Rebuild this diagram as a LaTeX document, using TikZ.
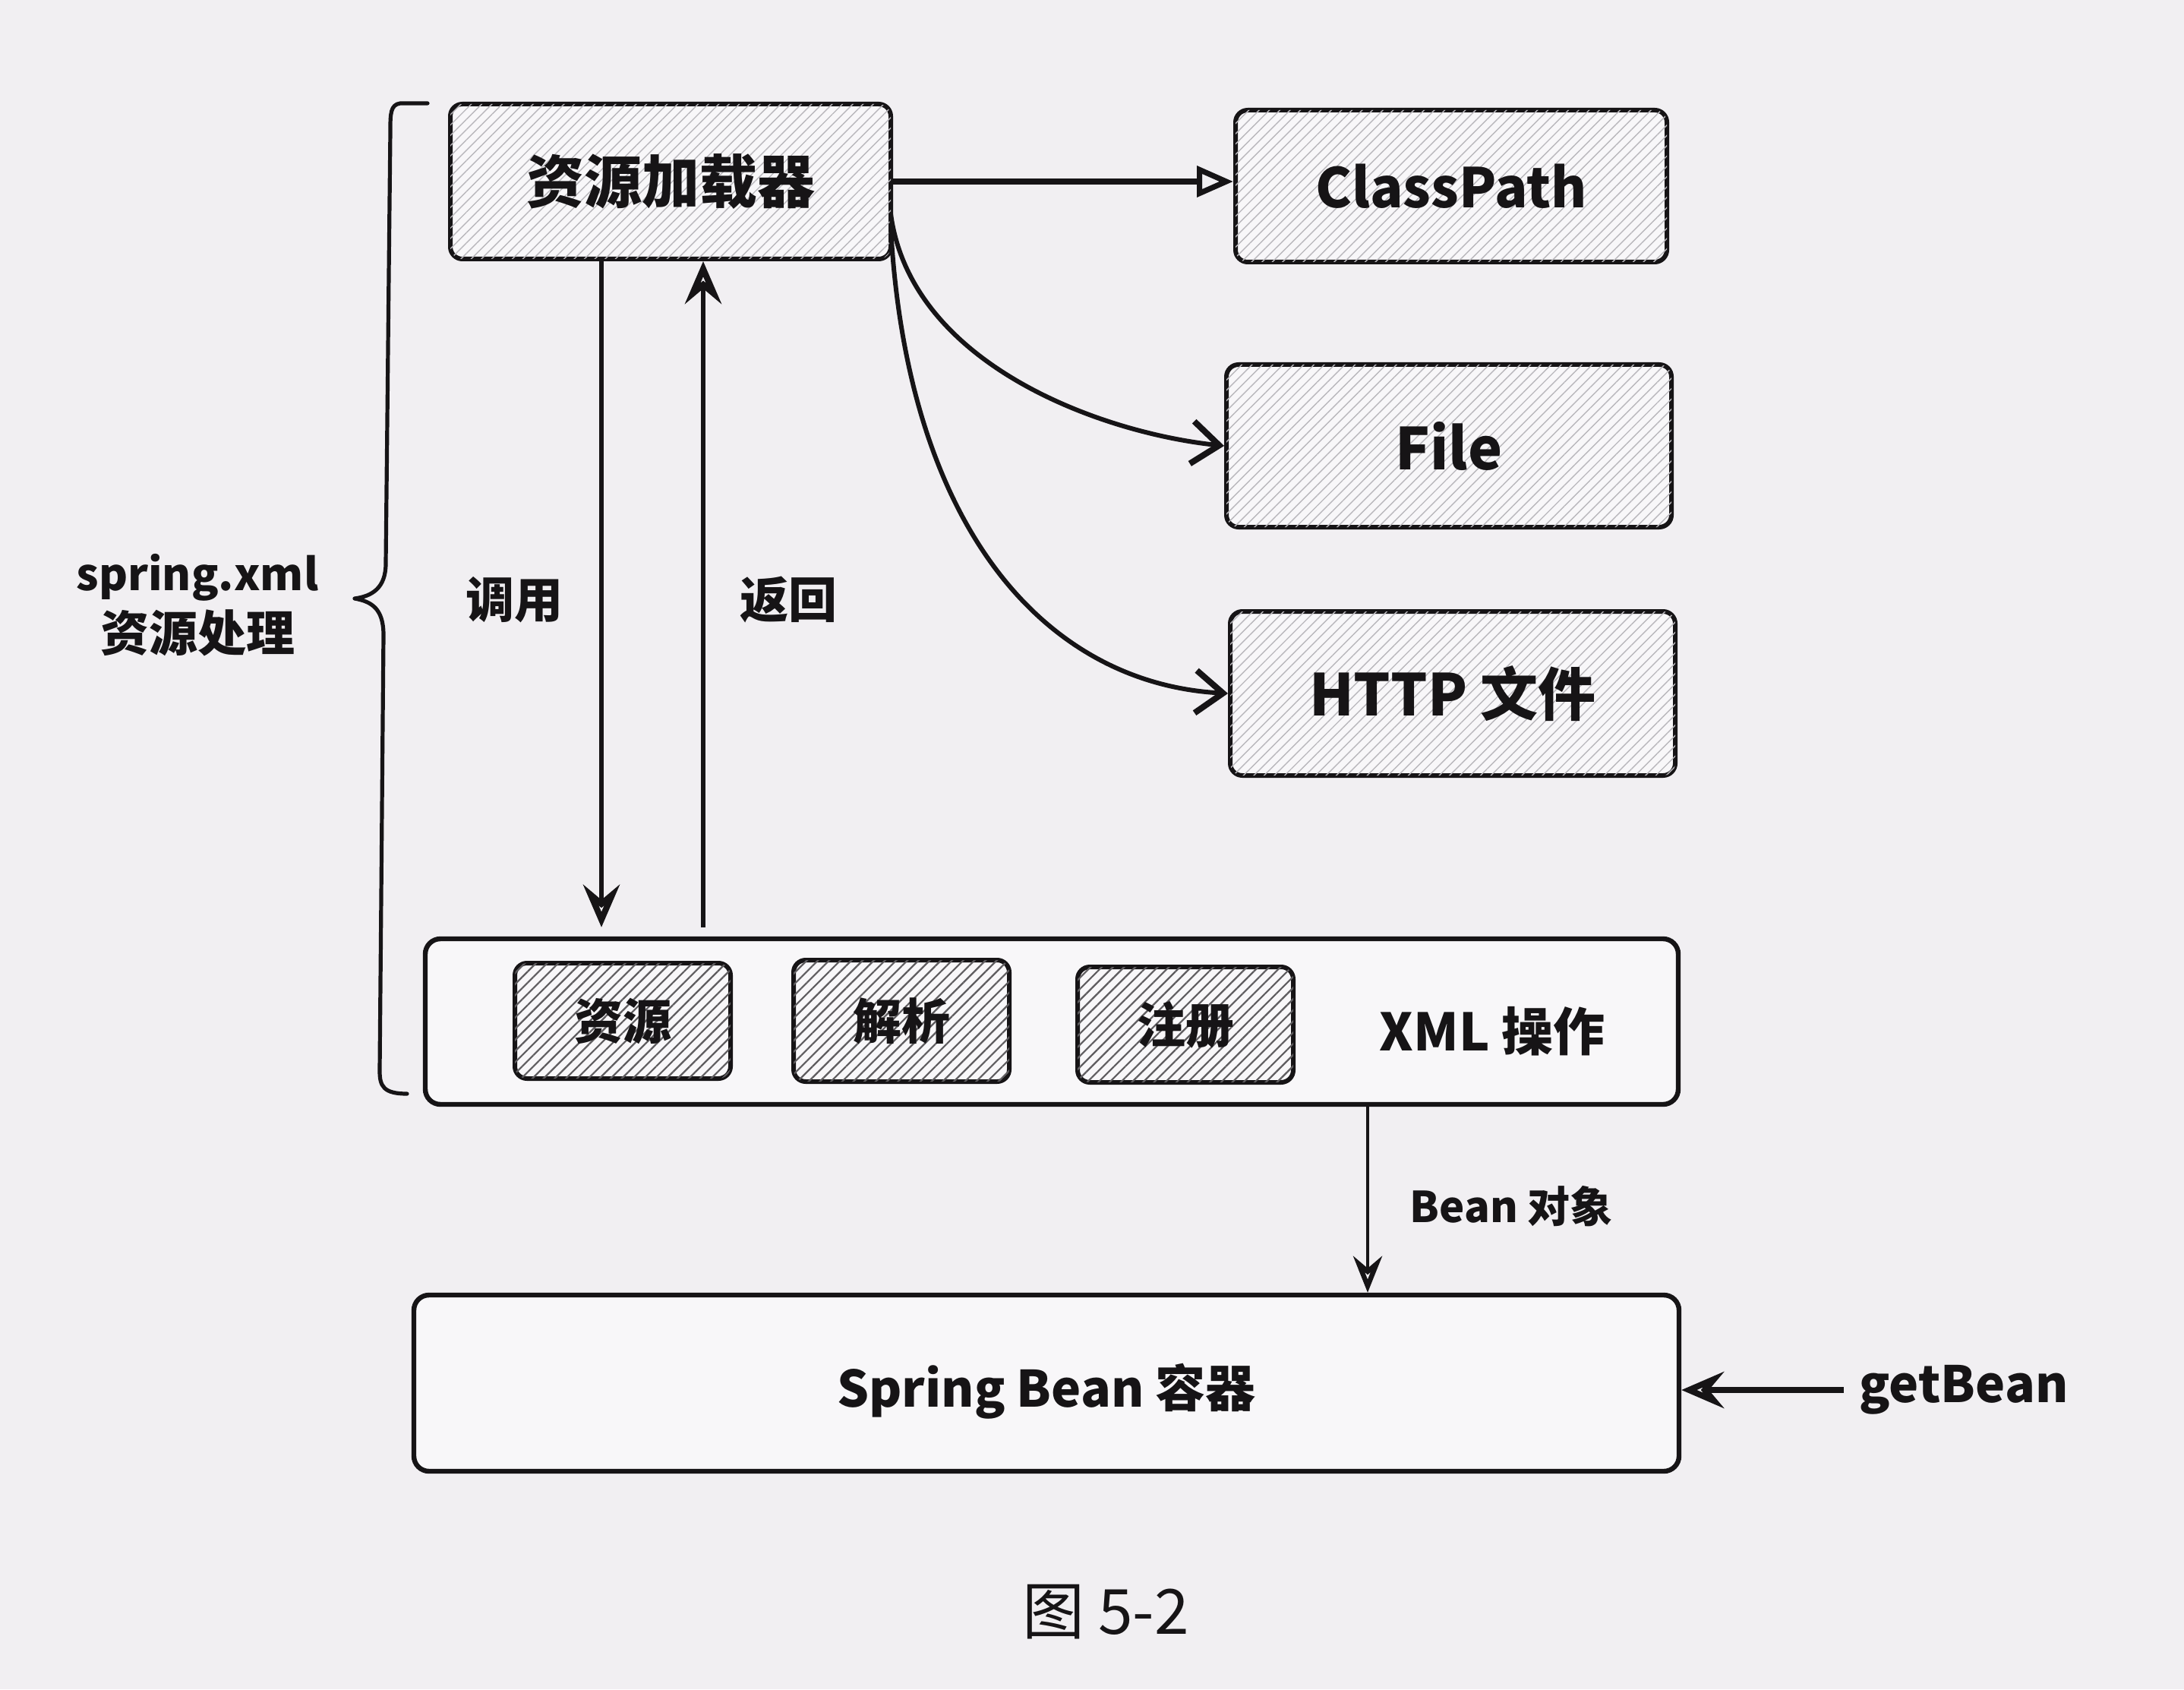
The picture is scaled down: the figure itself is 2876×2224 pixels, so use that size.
\documentclass[tikz,border=0pt]{standalone}
\usepackage{fontspec}
\setmainfont{Noto Sans CJK SC}
\usetikzlibrary{arrows.meta,patterns.meta,calc}
\definecolor{bg}{RGB}{241,239,242}
\definecolor{boxfill}{RGB}{248,247,249}
\definecolor{hatch}{RGB}{185,183,188}
\definecolor{hatchdark}{RGB}{95,93,96}
\definecolor{ink}{RGB}{22,20,22}
\begin{document}
\begin{tikzpicture}[x=0.25pt,y=-0.25pt,
  bigbox/.style={draw=ink, line width=1.5pt, rounded corners=4pt, fill=boxfill,
    postaction={pattern={Lines[angle=45,distance=2.4pt,line width=0.35pt]}, pattern color=hatch},
    text=ink, inner sep=0pt, font=\bfseries\fontsize{19}{22}\selectfont},
  smallbox/.style={draw=ink, line width=1.5pt, rounded corners=4pt, fill=boxfill,
    postaction={pattern={Lines[angle=45,distance=2.6pt,line width=0.55pt]}, pattern color=hatchdark},
    text=ink, inner sep=0pt, minimum width=71pt, minimum height=38pt, font=\bfseries\fontsize{16}{19}\selectfont},
  plainbox/.style={draw=ink, line width=1.6pt, rounded corners=5pt, fill=boxfill, inner sep=0pt},
  lbl/.style={text=ink, inner sep=0pt, font=\bfseries\fontsize{16}{19}\selectfont},
  conn/.style={draw=ink, line width=1.4pt},
  openstealth/.style={conn, -{Stealth[open, length=14pt, width=12pt, inset=5pt, line width=2pt]}},
  opentri/.style={conn, line width=2pt, -{Triangle[open, length=12pt, width=10pt, line width=1.8pt]}},
  barb/.style={conn, line width=1.5pt, -{Straight Barb[length=9pt, width=14pt, line width=2pt]}},
  thinarr/.style={draw=ink, line width=1pt, -{Stealth[open, length=12pt, width=9.5pt, inset=4pt, line width=1.6pt]}}
]
\fill[bg] (0,0) rectangle (2876,2224);
\useasboundingbox (0,0) rectangle (2876,2224);

% top boxes
\node[bigbox, minimum width=145pt, minimum height=51pt] (loader) at (883,239) {资源加载器};
\node[bigbox, minimum width=142pt, minimum height=50pt, font=\bfseries\fontsize{18}{21}\selectfont] (cp) at (1911,245) {ClassPath};
\node[bigbox, minimum width=146.5pt, minimum height=53.5pt] (file) at (1908,587) {File};
\node[bigbox, minimum width=146.5pt, minimum height=54pt] (http) at (1913,913) {HTTP 文件};

% XML box
\node[plainbox, minimum width=412.5pt, minimum height=54.5pt] (xml) at (1385,1345) {};
\node[smallbox] (res) at (820,1344) {资源};
\node[smallbox, minimum height=40pt] (parse) at (1187,1344) {解析};
\node[smallbox] (reg) at (1561,1349) {注册};
\node[lbl, font=\bfseries\fontsize{17}{20}\selectfont] (xmltxt) at (1965,1358) {XML 操作};

% container
\node[plainbox, minimum width=416.5pt, minimum height=58pt] (container) at (1378,1821) {};
\node[lbl, font=\bfseries\fontsize{16.5}{20}\selectfont] (cttxt) at (1378,1832) {Spring Bean 容器};
\node[lbl, font=\bfseries\fontsize{16.5}{20}\selectfont] (gb) at (2586,1830) {getBean};

% labels
\node[lbl] (call) at (677,790) {调用};
\node[lbl] (ret) at (1038,790) {返回};
\node[lbl, font=\bfseries\fontsize{14}{17}\selectfont] (beanobj) at (1990,1588) {Bean 对象};
\node[lbl, align=center, font=\bfseries\fontsize{16}{20}\selectfont] (springxml) at (260,797)
  {{\fontsize{14.5}{20}\selectfont spring.xml}\\资源处理};
\node[text=ink, inner sep=0pt, font=\fontsize{20.5}{24}\selectfont] (caption) at (1456,2122) {图 5-2};

% helper coordinates
\coordinate (cx) at (792,0);
\coordinate (rx) at (926,0);
\coordinate (bx) at (1801,0);
\coordinate (fs) at (1173,282);
\coordinate (hs) at (1173,300);

% connectors
\draw[opentri] (loader.east) -- (loader.east -| cp.west);
\draw[barb] (fs) .. controls (1200,480) and (1450,570) .. (file.west);
\draw[barb] (hs) .. controls (1195,700) and (1380,900) .. (http.west);
\draw[openstealth] (loader.south -| cx) -- ($(xml.north -| cx)+(0,-12)$);
\draw[openstealth] ($(xml.north -| rx)+(0,-12)$) -- (loader.south -| rx);
\draw[thinarr] (xml.south -| bx) -- (container.north -| bx);
\draw[openstealth, line width=2.2pt] ($(gb.west)+(-20,0)$) -- (container.east |- gb.west);

% brace
\draw[ink, line width=1.3pt, line cap=round, line join=round]
  (563,136) -- (527,136) .. controls (514,138) and (514,150) .. (514,172)
  -- (508,742) .. controls (508,774) and (490,785) .. (467,788)
  .. controls (490,792) and (505,802) .. (505,836)
  -- (500,1410) .. controls (500,1430) and (505,1440) .. (536,1440);
\end{tikzpicture}
\end{document}
